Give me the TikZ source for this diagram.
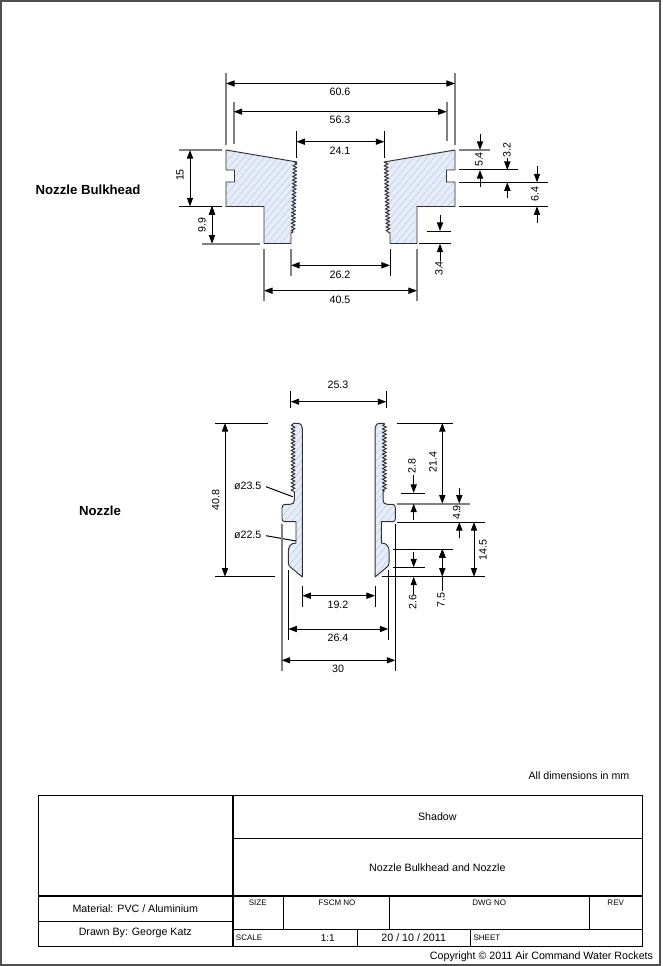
\documentclass[tikz,border=0pt]{standalone}
\usepackage{fontspec}
\setmainfont{Liberation Sans}
\usepackage{tikz}
\usetikzlibrary{arrows.meta}
\usetikzlibrary{patterns.meta}
\usetikzlibrary{decorations}
\usetikzlibrary{decorations.pathmorphing}
\definecolor{hatchfill}{HTML}{E6ECF8}
\definecolor{hatchline}{HTML}{BFD0EA}
\definecolor{partline}{HTML}{303030}
\definecolor{framegray}{HTML}{505050}
\newcommand{\bulkheadpath}{(226,150) -- (297,162) -- (295,163)
	  decorate[decoration={zigzag, segment length=2.7pt, amplitude=1.5pt}] {-- (293,232)}
	  -- (291,233) -- (291,243.5) -- (264,243.5) -- (264,206.5) -- (226,206.5)
	  -- (226,182) -- (234.5,182) -- (234.5,170) -- (226,170) -- cycle}
\newcommand{\nozzlepath}{(293,423.3) -- (297,423.3) .. controls (300.5,423.3) and (302.3,425) .. (302.3,428)
	  -- (302.3,577) -- (291,567.5) .. controls (289,566) and (288.3,565) .. (288.3,562)
	  -- (288.3,552) .. controls (288.3,547) and (290,543) .. (296,543) -- (296,521.7)
	  -- (285,521.7) .. controls (283,521.7) and (282,520.5) .. (282,518.5) -- (282,508)
	  .. controls (282,505.5) and (283,504.3) .. (285,504.3) -- (290,504.3)
	  .. controls (293,504.3) and (294.3,503) .. (294.3,500) -- (294.3,492) -- (293,491)
	  decorate[decoration={zigzag, segment length=2.7pt, amplitude=1.5pt}] {-- (293,423.3)}}
\begin{document}
\begin{tikzpicture}[x=0.75pt, y=-0.75pt, >={Triangle[length=6.4pt, width=4.6pt]}, font=\fontsize{8pt}{10pt}\selectfont]
	\tikzstyle{format} = [draw=partline, line width=0.7pt, line join=round, preaction={fill=hatchfill},
	  pattern={Lines[angle=50, distance=3.9pt, line width=0.45pt]}, pattern color=hatchline]
	\tikzstyle{thinline} = [draw=black, line width=0.75pt]
	\tikzstyle{greyline} = [draw=gray, line width=1.4pt]
	\tikzstyle{cell} = [draw=black, line width=0.9pt]
	\tikzstyle{tiny} = [font=\fontsize{6pt}{7pt}\selectfont, inner sep=0pt]
	\tikzstyle{txt} = [inner sep=0pt]
	\tikzstyle{vtxt} = [inner sep=0pt, rotate=90]
	\useasboundingbox (0,0) rectangle (662,966);
	\draw[draw=framegray, line width=1.1pt] (1,1) rectangle (660,965);
	% bulkhead
	\draw[format] \bulkheadpath;
	\begin{scope}[shift={(681,0)}, xscale=-1]
	  \draw[format] \bulkheadpath;
	\end{scope}
	% nozzle
	\draw[format] \nozzlepath;
	\begin{scope}[shift={(677.4,0)}, xscale=-1]
	  \draw[format] \nozzlepath;
	\end{scope}
	% extension lines, bulkhead
	\path[greyline]
	  (226,72.7) edge (226,145)
	  (455,72.7) edge (455,145)
	  (233.7,101.7) edge (233.7,144)
	  (446.7,101.7) edge (446.7,141)
	  (264,249) edge (264,301)
	  (417,249) edge (417,301)
	  (291,249) edge (291,276)
	  (179.3,150) edge (222,150)
	  (201.7,243.7) edge (260,243.7)
	  (459,150) edge (490,150)
	  ;
	\path[thinline]
	  (296.3,131) edge (296.3,158)
	  (384.3,131) edge (384.3,158)
	  (390,249) edge (390,276)
	  (179.3,206.3) edge (222,206.3)
	  (459,170) edge (518,170)
	  (459,182.3) edge (548,182.3)
	  (459,206.3) edge (548,206.3)
	  (426.7,231) edge (450.7,231)
	  (419,243.7) edge (450.7,243.7)
	  ;
	% extension lines, nozzle
	\path[thinline]
	  (290.7,391) edge (290.7,407.7)
	  (386.3,391) edge (386.3,407.7)
	  (215,423) edge (268,423)
	  (215,576.7) edge (275,576.7)
	  (302.3,585.7) edge (302.3,606.7)
	  (375,585.7) edge (375,606.7)
	  (288.3,570) edge (288.3,640)
	  (388.3,570) edge (388.3,640)
	  (395.3,524) edge (395.3,671)
	  (396.7,423) edge (453,423)
	  (396.7,522) edge (485,522)
	  (393,549) edge (453,549)
	  (393,567.3) edge (425,567.3)
	  (381.7,576.7) edge (485,576.7)
	  (400.7,493) edge (425,493)
	  (266,486.7) edge (292.7,496.7)
	  (266,535.7) edge (296,541)
	  ;
	\path[greyline]
	  (281.7,524) edge (281.7,671)
	  (396.7,503.7) edge (470,503.7)
	  ;
	% dimension arrows, bulkhead
	\path[<->, thinline]
	  (226,83.5) edge (455,83.5)
	  (233.7,111.7) edge (446.7,111.7)
	  (296.3,141.7) edge (384.3,141.7)
	  (291,265.3) edge (390,265.3)
	  (264,290.7) edge (417,290.7)
	  (190,150) edge (190,206.3)
	  (212,206.3) edge (212,243.7)
	  ;
	\path[->, thinline]
	  (480,134) edge (480,150)
	  (480,186.7) edge (480,170)
	  (507.3,158) edge (507.3,170)
	  (507.3,198) edge (507.3,182.3)
	  (537,166) edge (537,182.3)
	  (537,222.7) edge (537,206.3)
	  (440,215) edge (440,231)
	  (440,262) edge (440,243.7)
	  ;
	% dimension arrows, nozzle
	\path[<->, thinline]
	  (290.7,401.7) edge (386.3,401.7)
	  (225,423) edge (225,576.7)
	  (302.3,595.7) edge (375,595.7)
	  (288.3,629) edge (388.3,629)
	  (281.7,660.3) edge (395.3,660.3)
	  (442.3,423) edge (442.3,503.7)
	  (474,522) edge (474,576.7)
	  (442.3,549) edge (442.3,576.7)
	  ;
	\path[->, thinline]
	  (413.7,475) edge (413.7,493)
	  (413.7,520) edge (413.7,503.7)
	  (459.3,487.7) edge (459.3,503.7)
	  (459.3,538) edge (459.3,522)
	  (413.7,551.7) edge (413.7,567.3)
	  (413.7,595) edge (413.7,576.7)
	  ;
	\path[thinline] (442.3,576.7) edge (442.3,591);
	% labels
	\path
	  node[txt, font=\fontsize{9.9pt}{11pt}\selectfont\bfseries] (bulkheadname) at (88,190) {Nozzle Bulkhead}
	  node[txt, font=\fontsize{9.9pt}{11pt}\selectfont\bfseries] (nozzlename) at (100,511) {Nozzle}
	  node[txt] (dimA) at (340,92) {60.6}
	  node[txt] (dimB) at (340,120) {56.3}
	  node[txt] (dimC) at (340,151) {24.1}
	  node[txt] (dimD) at (340,275) {26.2}
	  node[txt] (dimE) at (340,300) {40.5}
	  node[vtxt] (dimF) at (180,175) {15}
	  node[vtxt] (dimG) at (202,225) {9.9}
	  node[vtxt] (dimH) at (479,159.5) {5.4}
	  node[vtxt] (dimJ) at (507,150) {3.2}
	  node[vtxt] (dimK) at (535,194) {6.4}
	  node[vtxt, fill=white, inner ysep=1pt] (dimL) at (439,268.5) {3.4}
	  node[txt] (dimM) at (338,385) {25.3}
	  node[vtxt] (dimN) at (215.7,500) {40.8}
	  node[txt] (diaA) at (247.7,486) {ø23.5}
	  node[txt] (diaB) at (247.7,535) {ø22.5}
	  node[txt] (dimP) at (338,605) {19.2}
	  node[txt] (dimQ) at (338,638) {26.4}
	  node[txt] (dimR) at (338,669) {30}
	  node[vtxt] (dimS) at (433,462) {21.4}
	  node[vtxt] (dimT) at (412,465.7) {2.8}
	  node[vtxt] (dimU) at (456.7,512.5) {4.9}
	  node[vtxt] (dimV) at (483,550) {14.5}
	  node[vtxt] (dimW) at (441,600) {7.5}
	  node[vtxt, fill=white, inner ysep=1pt] (dimX) at (412.7,602) {2.6}
	  ;
	% title block
	\draw[cell] (38.3,795.3) rectangle (642.7,946.3);
	\path[cell]
	  (233,795.3) edge (233,946.3)
	  (233,838.7) edge (642.7,838.7)
	  (38.3,896) edge (642.7,896)
	  (38.3,921.3) edge (233,921.3)
	  (233,929.7) edge (642.7,929.7)
	  (283.7,896) edge (283.7,929.7)
	  (389.3,896) edge (389.3,929.7)
	  (589.7,896) edge (589.7,929.7)
	  (357.7,929.7) edge (357.7,946.3)
	  (470.7,929.7) edge (470.7,946.3)
	  ;
	\path
	  node[txt] (units) at (579,775.7) {All dimensions in mm}
	  node[txt] (project) at (437.3,816.7) {Shadow}
	  node[txt] (drawing) at (437.3,867.3) {Nozzle Bulkhead and Nozzle}
	  node[txt] (material) at (135.3,908.3) {Material: PVC / Aluminium}
	  node[txt] (drawnby) at (135.3,933.3) {Drawn By: George Katz}
	  node[tiny] (size) at (257.7,902.3) {SIZE}
	  node[tiny] (fscm) at (337,902.3) {FSCM NO}
	  node[tiny] (dwgno) at (489.3,902.3) {DWG NO}
	  node[tiny] (rev) at (615.7,902.3) {REV}
	  node[tiny, anchor=west] (scale) at (235.7,937.7) {SCALE}
	  node[txt, font=\fontsize{7.5pt}{9pt}\selectfont] (ratio) at (327.7,937.7) {1:1}
	  node[txt] (date) at (413.7,937.7) {20 / 10 / 2011}
	  node[tiny, anchor=west] (sheet) at (473.3,937.7) {SHEET}
	  node[txt, anchor=east] (copyright) at (653.3,956.7) {Copyright © 2011 Air Command Water Rockets}
	  ;
\end{tikzpicture}
\end{document}
